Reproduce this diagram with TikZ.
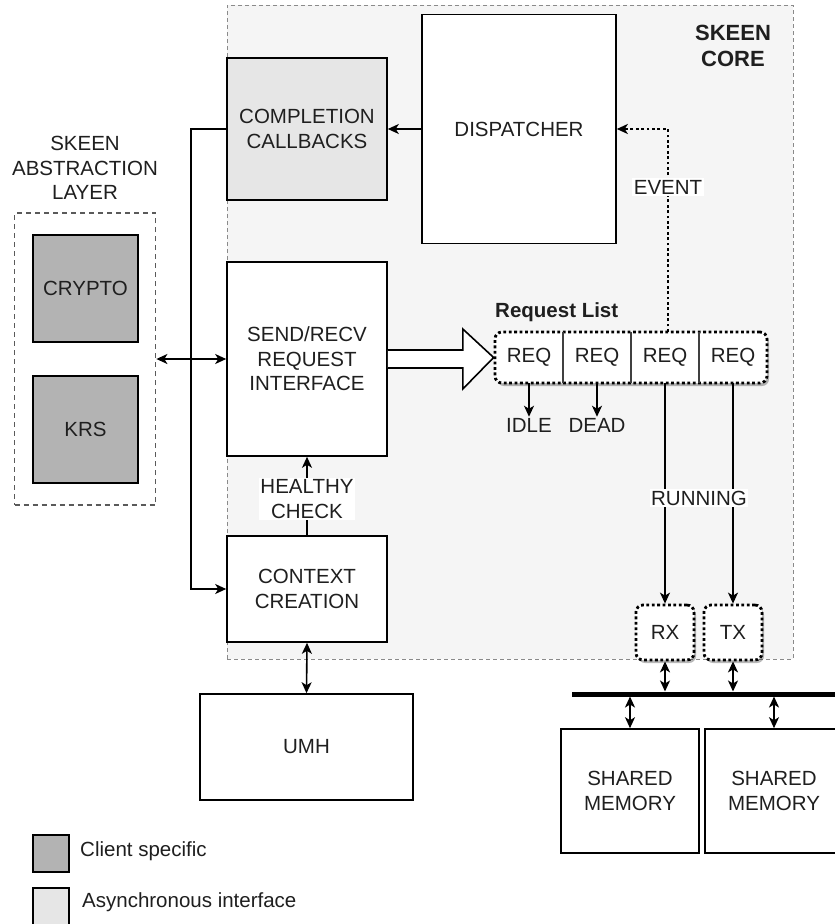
\documentclass[tikz,border=0pt]{standalone}
\usepackage{fontspec}
\setmainfont{Liberation Sans}
\usetikzlibrary{arrows.meta,shadows,calc}

\definecolor{txt}{HTML}{1F1F1F}
\definecolor{corefill}{HTML}{F5F5F5}
\definecolor{asyncfill}{HTML}{E6E6E6}
\definecolor{clientfill}{HTML}{B3B3B3}
\definecolor{coreline}{HTML}{8A8A8A}
\definecolor{salline}{HTML}{5A5A5A}

\begin{document}
\begin{tikzpicture}[x=1pt,y=-1pt,
  every node/.style={font=\fontsize{20.5}{24.5}\selectfont, text=txt, align=center},
  box/.style={draw=black, line width=1.6pt, fill=white, inner sep=0pt},
  corebox/.style={draw=coreline, line width=1pt, dash pattern=on 4pt off 3pt, fill=corefill, inner sep=0pt},
  salbox/.style={draw=salline, line width=1.8pt, dash pattern=on 5pt off 4pt, inner sep=0pt},
  dotbox/.style={draw=black, line width=2.8pt, dash pattern=on 2.8pt off 2.6pt, fill=white,
    rounded corners=7pt, inner sep=0pt,
    drop shadow={shadow xshift=2pt, shadow yshift=-3pt, fill=black, opacity=0.28}},
  cell/.style={inner sep=0pt, minimum width=68pt, minimum height=51pt},
  divider/.style={draw=black!75, line width=1.5pt},
  wire/.style={draw=black, line width=1.6pt},
  dotwire/.style={draw=black, line width=2.8pt, dash pattern=on 2.8pt off 2.6pt},
  >={Stealth[length=11pt,width=10pt,inset=3pt]},
  onwire/.style={fill=white, inner sep=1.5pt},
  blockarrow/.style={draw=black, line width=1.6pt, fill=white, line join=miter}
]
\useasboundingbox (0,0) rectangle (835,924);
\fill[white] (0,0) rectangle (835,924);

% core region
\node[corebox, minimum width=566pt, minimum height=654pt] (core) at (510,332) {};
\node[font=\fontsize{22}{26}\selectfont\bfseries] (corelabel) at (733,46) {SKEEN\\CORE};

% core blocks
\node[box, minimum width=194pt, minimum height=229pt] (disp) at (519,129) {DISPATCHER};
\node[box, fill=asyncfill, minimum width=160pt, minimum height=142pt] (compl) at (307,129) {COMPLETION\\CALLBACKS};
\node[box, minimum width=160pt, minimum height=194pt] (send) at (307,359) {SEND/RECV\\REQUEST\\INTERFACE};
\node[box, minimum width=160pt, minimum height=106pt] (ctx) at (307,589) {CONTEXT\\CREATION};
\node[box, minimum width=213pt, minimum height=106pt] (umh) at (306.5,747) {UMH};

% abstraction layer
\node (sallabel) at (85,168) {SKEEN\\ABSTRACTION\\LAYER};
\node[salbox, minimum width=141pt, minimum height=292pt] (sal) at (85,359) {};
\node[box, fill=clientfill, minimum width=105pt, minimum height=107pt] (crypto) at (85.5,288.5) {CRYPTO};
\node[box, fill=clientfill, minimum width=105pt, minimum height=107pt] (krs) at (85.5,429.5) {KRS};

% request list
\node[dotbox, minimum width=272pt, minimum height=51pt] (reqlist) at (631,357.5) {};
\node[cell] (req1) at (529,357.5) {REQ};
\node[cell] (req2) at (597,357.5) {REQ};
\node[cell] (req3) at (665,357.5) {REQ};
\node[cell] (req4) at (733,357.5) {REQ};
\draw[divider] (req1.north east) -- (req1.south east);
\draw[divider] (req2.north east) -- (req2.south east);
\draw[divider] (req3.north east) -- (req3.south east);
\node[font=\fontsize{20.5}{24.5}\selectfont\bfseries, anchor=west, inner sep=0pt] (reqtitle) at (495,312) {Request List};

\node[inner sep=1pt] (idle) at (529,425) {IDLE};
\node[inner sep=1pt] (dead) at (597,425) {DEAD};
\draw[wire,->] (req1.south) -- (idle.north);
\draw[wire,->] (req2.south) -- (dead.north);

% rx / tx
\node[dotbox, minimum width=58pt, minimum height=55pt] (rx) at (665,632.5) {RX};
\node[dotbox, minimum width=58pt, minimum height=55pt] (tx) at (733,632.5) {TX};

\draw[wire,->] (req3.south) -- (rx.north);
\draw[wire,->] (req4.south) -- (tx.north);
\node[onwire] (running) at (699,498) {RUNNING};

% event path
\draw[dotwire,->] ([xshift=3pt]req3.north) |- (disp.east)
  node[onwire, pos=0.357] (event) {EVENT};

% dispatcher to callbacks
\draw[wire,->] (disp.west) -- (compl.east);

% left distribution line
\coordinate (lb) at (191,0);
\draw[wire,->] (compl.west) -- (compl.west -| lb) -- (ctx.west -| lb) -- (ctx.west);
\draw[wire,<->] (sal.east |- send.west) -- (send.west);

% healthy check
\draw[wire,->] (ctx.north) -- (send.south) node[onwire, pos=0.46] (healthy) {HEALTHY\\CHECK};

% context to UMH
\draw[wire,<->] (ctx.south) -- (umh.north);

% send/recv to request list
\draw[blockarrow]
  ($(send.east)+(0,-9)$) -- ($(send.east)+(75,-9)$) -- ($(send.east)+(75,-30)$)
  -- (reqlist.west) -- ($(send.east)+(75,30)$) -- ($(send.east)+(75,9)$) -- ($(send.east)+(0,9)$);

% shared memory and bus
\coordinate (busL) at (572,694);
\coordinate (busR) at (845,694);
\draw[line width=5pt] (busL) -- (busR);
\node[box, minimum width=138pt, minimum height=124pt] (sm1) at (630,791) {SHARED\\MEMORY};
\node[box, minimum width=138pt, minimum height=124pt] (sm2) at (774,791) {SHARED\\MEMORY};
\draw[wire,<->, shorten >=2.5pt] (rx.south) -- (rx.south |- busL);
\draw[wire,<->, shorten >=2.5pt] (tx.south) -- (tx.south |- busL);
\draw[wire,<->, shorten <=2.5pt] (sm1.north |- busL) -- (sm1.north);
\draw[wire,<->, shorten <=2.5pt] (sm2.north |- busL) -- (sm2.north);

% legend
\node[box, fill=clientfill, minimum width=36pt, minimum height=37pt] (legc) at (51,853.5) {};
\node[anchor=west, inner sep=0pt] (legctext) at (80,851) {Client specific};
\node[box, fill=asyncfill, minimum width=36pt, minimum height=37pt] (lega) at (51,906.5) {};
\node[anchor=west, inner sep=0pt] (legatext) at (82,902) {Asynchronous interface};
\end{tikzpicture}
\end{document}
